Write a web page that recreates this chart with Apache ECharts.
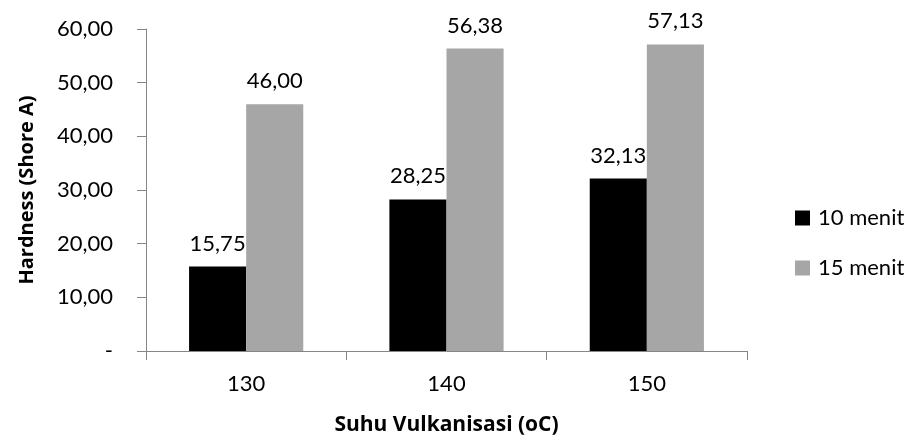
<!DOCTYPE html>
<html>
<head>
<meta charset="utf-8">
<script src="https://cdn.jsdelivr.net/npm/echarts@6/dist/echarts.min.js"></script>
<style>
  html, body { margin: 0; padding: 0; background: #fff; }
  #chart { width: 911px; height: 441px; }
</style>
</head>
<body>
<div id="chart"></div>
<script>
// Hardness vs vulcanisation temperature, two curing times
const categories = ['130', '140', '150'];
const menit10 = [15.75, 28.25, 32.13];
const menit15 = [46.00, 56.38, 57.13];
const seriesNames = ['10 menit', '15 menit'];

const FONT = 'Lato';
const TITLE_FONT = 'Open Sans';
const fmt = v => v === 0 ? '-' : v.toFixed(2).replace('.', ',');

const chart = echarts.init(document.getElementById('chart'));
chart.setOption({
  animation: false,
  textStyle: { fontFamily: FONT },
  grid: { left: 146, right: 164, top: 29, bottom: 90, containLabel: false },
  legend: {
    orient: 'vertical',
    left: 790,
    top: 202,
    itemWidth: 15,
    itemHeight: 15,
    itemGap: 28,
    icon: 'rect',
    textStyle: { fontFamily: FONT, fontSize: 22, color: '#000', padding: [0, 0, 0, 3] },
    data: seriesNames
  },
  xAxis: {
    type: 'category',
    data: categories,
    name: 'Suhu Vulkanisasi (oC)',
    nameLocation: 'middle',
    nameGap: 64,
    nameTextStyle: { fontFamily: TITLE_FONT, fontSize: 21, fontWeight: 'bold', color: '#000' },
    axisLine: { lineStyle: { color: '#868686', width: 1 } },
    axisTick: { show: true, length: 9, lineStyle: { color: '#868686' } },
    axisLabel: { margin: 22, fontFamily: FONT, fontSize: 22, color: '#000' }
  },
  yAxis: {
    type: 'value',
    min: 0,
    max: 60,
    interval: 10,
    name: 'Hardness (Shore A)',
    nameLocation: 'middle',
    nameGap: 109,
    nameTextStyle: { fontFamily: TITLE_FONT, fontSize: 20, fontWeight: 'bold', color: '#000' },
    axisLine: { show: true, lineStyle: { color: '#868686', width: 1 } },
    axisTick: { show: true, length: 9, lineStyle: { color: '#868686' } },
    splitLine: { show: false },
    axisLabel: { margin: 33, fontFamily: FONT, fontSize: 22, color: '#000', formatter: fmt }
  },
  series: [
    {
      name: seriesNames[0],
      type: 'bar',
      data: menit10,
      barGap: '0%',
      barCategoryGap: '43%',
      itemStyle: { color: '#000000' },
      label: { show: true, position: 'top', distance: 12, fontFamily: FONT, fontSize: 22, color: '#000', formatter: p => fmt(p.value) }
    },
    {
      name: seriesNames[1],
      type: 'bar',
      data: menit15,
      barGap: '0%',
      barCategoryGap: '43%',
      itemStyle: { color: '#A6A6A6' },
      label: { show: true, position: 'top', distance: 12, fontFamily: FONT, fontSize: 22, color: '#000', formatter: p => fmt(p.value) }
    }
  ]
});
</script>
</body>
</html>
